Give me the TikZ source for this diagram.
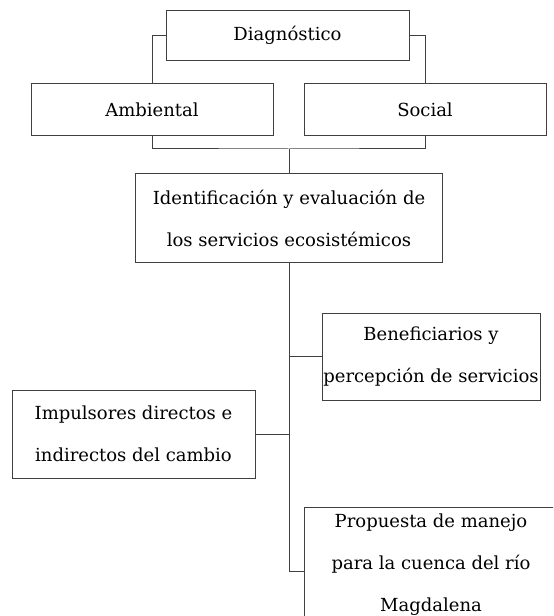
\documentclass[tikz,border=0pt]{standalone}
\usepackage{fontspec}
\setmainfont{DejaVu Serif}
\usepackage{tikz}
\usetikzlibrary{positioning}
\tikzstyle{stage} = [rectangle, draw=black!75, line width=0.75pt, fill=white, text=black, align=center, inner sep=0pt, font=\fontsize{13.5}{31.5}\selectfont]
\tikzstyle{tedge} = [draw=black!75, line width=0.75pt]

\begin{document}
\begin{tikzpicture}[x=0.75pt, y=-0.75pt]
\useasboundingbox (0,0) rectangle (553,616);
\clip (0,0) rectangle (553,616);

% diagnostico =============================
\node[stage, minimum width=182.25pt, minimum height=37.5pt] (diag) at (287.5,35.5) {Diagnóstico};
\node[stage, minimum width=181.5pt, minimum height=39pt] (amb) at (152,110) {Ambiental};
\node[stage, minimum width=181.5pt, minimum height=39pt] (soc) at (425,110) {Social};
\coordinate (hub) at (289,149);

% servicios
\node[stage, minimum width=230.25pt, minimum height=66pt] (ident) at (289,218) {Identificación y evaluación de\\los servicios ecosistémicos};

% ramas
\node[stage, minimum width=163.5pt, minimum height=65.25pt] (benef) at (431,356.5) {Beneficiarios y\\percepción de servicios};
\node[stage, minimum width=182.25pt, minimum height=66pt] (impul) at (133.5,434) {Impulsores directos e\\indirectos del cambio};
\node[stage, minimum width=190.5pt, minimum height=87pt] (prop) at (431,565) {Propuesta de manejo\\para la cuenca del río\\Magdalena};
\coordinate (propin) at ([yshift=-4.5pt]prop.west);

%edges
\path[tedge] (diag.west) -| (amb.north);
\path[tedge] (diag.east) -| (soc.north);
\path[tedge] (amb.south) |- (hub) -| (soc.south);
\path[tedge] (hub) -- (ident.north);
\path[tedge] (ident.south) -- (ident.south |- propin);

%edges ramas
\path[tedge] (ident.south |- benef.west) -- (benef.west);
\path[tedge] (impul.east) -- (impul.east -| ident.south);
\path[tedge] (ident.south |- propin) -- (propin);

\end{tikzpicture}
\end{document}
